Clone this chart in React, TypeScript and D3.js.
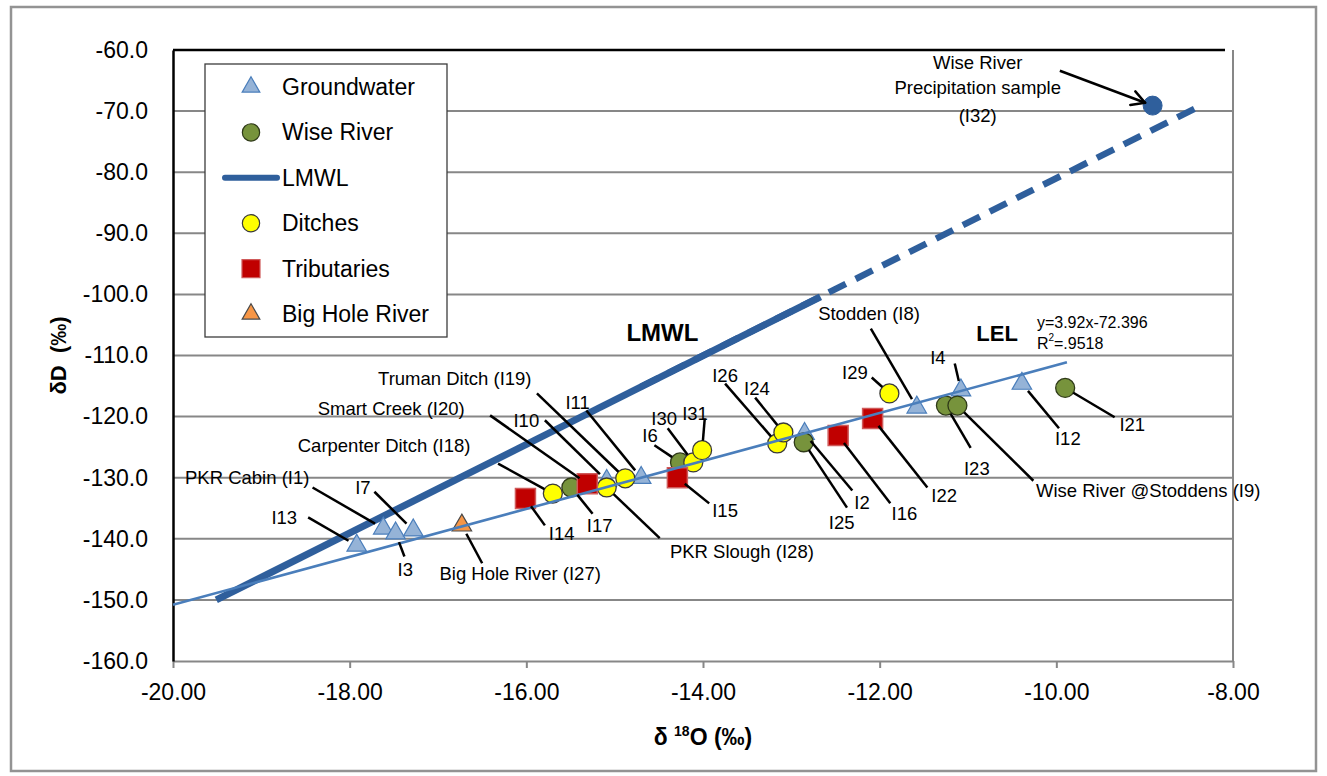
import React, { useEffect, useRef } from 'react';
import * as d3 from 'd3';

type Pt = { id: string; x: number; y: number };

// axis ticks
const xTicks = [-20, -18, -16, -14, -12, -10, -8];
const yTicks = [-60, -70, -80, -90, -100, -110, -120, -130, -140, -150, -160];

// samples (d18O, dD)
const groundwater: Pt[] = [
  { id: 'I13', x: -17.92, y: -141.1 },
  { id: 'I1', x: -17.62, y: -138.3 },
  { id: 'I3', x: -17.48, y: -139.1 },
  { id: 'I7', x: -17.28, y: -138.6 },
  { id: 'I10', x: -15.09, y: -130.5 },
  { id: 'I11', x: -14.7, y: -130.0 },
  { id: 'I2', x: -12.85, y: -122.8 },
  { id: 'I8', x: -11.58, y: -118.5 },
  { id: 'I4', x: -11.08, y: -115.7 },
  { id: 'I12', x: -10.39, y: -114.6 },
];
const wiseRiver: Pt[] = [
  { id: 'I17', x: -15.49, y: -131.6 },
  { id: 'I6', x: -14.26, y: -127.5 },
  { id: 'I25', x: -12.86, y: -124.2 },
  { id: 'I23', x: -11.25, y: -118.2 },
  { id: 'I9', x: -11.12, y: -118.2 },
  { id: 'I21', x: -9.9, y: -115.3 },
];
const ditches: Pt[] = [
  { id: 'I18', x: -15.7, y: -132.6 },
  { id: 'I28', x: -15.09, y: -131.6 },
  { id: 'I19', x: -14.88, y: -130.1 },
  { id: 'I30', x: -14.11, y: -127.5 },
  { id: 'I31', x: -14.01, y: -125.5 },
  { id: 'I26', x: -13.16, y: -124.4 },
  { id: 'I24', x: -13.09, y: -122.6 },
  { id: 'I29', x: -11.89, y: -116.2 },
];
const tributaries: Pt[] = [
  { id: 'I14', x: -16.01, y: -133.4 },
  { id: 'I20', x: -15.31, y: -131.0 },
  { id: 'I15', x: -14.29, y: -130.0 },
  { id: 'I16', x: -12.47, y: -123.1 },
  { id: 'I22', x: -12.08, y: -120.3 },
];
const bigHole: Pt[] = [{ id: 'I27', x: -16.73, y: -137.8 }];
const precip: Pt[] = [{ id: 'I32', x: -8.91, y: -69.1 }];

// lines
const lmwlSolid: [number, number][] = [[-19.51, -150.0], [-12.67, -100.4]];
const lmwlDashed: [number, number][] = [[-14.7, -115.1], [-8.39, -69.3]];
const lel: [number, number][] = [[-20, -150.8], [-9.88, -111.1]];

// callouts: label centre (lx, ly) and leader start (sx, sy), in data units
const notes = [
  { text: 'I13', at: 'I13', lx: -18.74, ly: -136.5, sx: -18.47, sy: -136.5 },
  { text: 'PKR Cabin (I1)', at: 'I1', lx: -19.16, ly: -130.0, sx: -18.42, sy: -131.6 },
  { text: 'I7', at: 'I7', lx: -17.85, ly: -131.6, sx: -17.72, sy: -132.3 },
  { text: 'I3', at: 'I3', lx: -17.37, ly: -145.0, sx: -17.38, sy: -142.9 },
  { text: 'Big Hole River (I27)', at: 'I27', lx: -16.07, ly: -145.7, sx: -16.5, sy: -144.0 },
  { text: 'Carpenter Ditch (I18)', at: 'I18', lx: -17.61, ly: -124.7, sx: -16.32, sy: -127.7 },
  { text: 'Smart Creek (I20)', at: 'I20', lx: -17.53, ly: -118.7, sx: -16.41, sy: -119.8 },
  { text: 'Truman Ditch (I19)', at: 'I19', lx: -16.81, ly: -113.8, sx: -15.88, sy: -116.2 },
  { text: 'I10', at: 'I10', lx: -16.0, ly: -120.6, sx: -15.79, sy: -120.6 },
  { text: 'I11', at: 'I11', lx: -15.42, ly: -117.7, sx: -15.32, sy: -119.0 },
  { text: 'I14', at: 'I14', lx: -15.6, ly: -139.1, sx: -15.79, sy: -137.8 },
  { text: 'I17', at: 'I17', lx: -15.17, ly: -137.8, sx: -15.25, sy: -135.9 },
  { text: 'PKR Slough (I28)', at: 'I28', lx: -13.56, ly: -142.1, sx: -14.49, sy: -139.9 },
  { text: 'I6', at: 'I6', lx: -14.6, ly: -123.1, sx: -14.55, sy: -124.7 },
  { text: 'I30', at: 'I30', lx: -14.44, ly: -120.3, sx: -14.4, sy: -121.9 },
  { text: 'I31', at: 'I31', lx: -14.09, ly: -119.5, sx: -13.98, sy: -120.3 },
  { text: 'I15', at: 'I15', lx: -13.75, ly: -135.4, sx: -13.93, sy: -134.2 },
  { text: 'I26', at: 'I26', lx: -13.75, ly: -113.3, sx: -13.75, sy: -114.6 },
  { text: 'I24', at: 'I24', lx: -13.39, ly: -115.4, sx: -13.41, sy: -116.9 },
  { text: 'I2', at: 'I2', lx: -12.2, ly: -134.1, sx: -12.31, sy: -132.1 },
  { text: 'I25', at: 'I25', lx: -12.43, ly: -137.3, sx: -12.37, sy: -134.9 },
  { text: 'I16', at: 'I16', lx: -11.72, ly: -135.9, sx: -11.88, sy: -134.2 },
  { text: 'I22', at: 'I22', lx: -11.27, ly: -132.9, sx: -11.46, sy: -131.6 },
  { text: 'I29', at: 'I29', lx: -12.28, ly: -112.8, sx: -12.09, sy: -113.6 },
  { text: 'Stodden (I8)', at: 'I8', lx: -12.12, ly: -103.1, sx: -12.1, sy: -105.6 },
  { text: 'I4', at: 'I4', lx: -11.34, ly: -110.3, sx: -11.15, sy: -111.3 },
  { text: 'I23', at: 'I23', lx: -10.9, ly: -128.5, sx: -10.97, sy: -125.1 },
  { text: 'Wise River @Stoddens (I9)', at: 'I9', lx: -8.96, ly: -132.1, sx: -10.26, sy: -130.5 },
  { text: 'I12', at: 'I12', lx: -9.87, ly: -123.6, sx: -9.97, sy: -121.9 },
  { text: 'I21', at: 'I21', lx: -9.14, ly: -121.3, sx: -9.34, sy: -120.1 },
];
const precipNote = { lines: ['Wise River', 'Precipitation sample', '(I32)'], lx: -10.89, ly: [-62.0, -66.1, -70.7], sx: -9.96, sy: -63.4 };

const legendItems = ['Groundwater', 'Wise River', 'LMWL', 'Ditches', 'Tributaries', 'Big Hole River'];

const W = 1327;
const H = 776;
const FONT = '"Liberation Sans", Arial, sans-serif';
const LMWL_COLOR = '#2f5f9c';
const LEL_COLOR = '#4a7ebb';
const GRID = '#878787';

const App = () => {
  const ref = useRef<SVGSVGElement>(null);

  useEffect(() => {
    const margin = { top: 50, right: 94, bottom: 115, left: 173 };
    const svg = d3.select(ref.current);
    svg.selectAll('*').remove();

    const x = d3.scaleLinear().domain([-20, -8]).range([margin.left, W - margin.right]);
    const y = d3.scaleLinear().domain([-160, -60]).range([H - margin.bottom, margin.top]);

    // outer chart frame
    svg.append('rect')
      .attr('x', 11).attr('y', 7).attr('width', 1305).attr('height', 764)
      .attr('fill', '#fff').attr('stroke', '#939393').attr('stroke-width', 2.5);

    // horizontal gridlines
    svg.append('g').selectAll('line')
      .data(yTicks.filter(v => v !== -60 && v !== -160))
      .enter().append('line')
      .attr('x1', x(-20)).attr('x2', x(-8))
      .attr('y1', d => y(d)).attr('y2', d => y(d))
      .attr('stroke', GRID).attr('stroke-width', 2);

    // top edge (black) and right edge (grey)
    svg.append('line')
      .attr('x1', x(-20)).attr('x2', x(-8) - 8).attr('y1', y(-60)).attr('y2', y(-60))
      .attr('stroke', '#000').attr('stroke-width', 2.5);
    svg.append('line')
      .attr('x1', x(-8)).attr('x2', x(-8)).attr('y1', y(-60)).attr('y2', y(-160))
      .attr('stroke', GRID).attr('stroke-width', 2);

    // axes
    const xAxis = svg.append('g')
      .attr('transform', `translate(0,${y(-160)})`)
      .call(d3.axisBottom(x).tickValues(xTicks).tickFormat(d => (+d).toFixed(2)).tickSizeInner(7).tickSizeOuter(0).tickPadding(16));
    xAxis.select('.domain').attr('stroke', GRID).attr('stroke-width', 2);
    xAxis.selectAll('.tick line').attr('stroke', GRID).attr('stroke-width', 2);
    xAxis.selectAll('text').attr('font-family', FONT).attr('font-size', 23).attr('fill', '#000');

    const yAxis = svg.append('g')
      .attr('transform', `translate(${x(-20)},0)`)
      .call(d3.axisLeft(y).tickValues(yTicks).tickFormat(d => (+d).toFixed(1)).tickSize(0).tickPadding(25));
    yAxis.select('.domain').attr('stroke', '#000').attr('stroke-width', 2.5);
    yAxis.selectAll('text').attr('font-family', FONT).attr('font-size', 23).attr('fill', '#000');

    // axis titles
    svg.append('text')
      .attr('transform', `translate(58,${(y(-60) + y(-160)) / 2}) rotate(-90)`)
      .attr('text-anchor', 'middle').attr('dominant-baseline', 'central')
      .attr('font-family', FONT).attr('font-size', 22).attr('font-weight', 'bold')
      .style('white-space', 'pre')
      .text('\u03b4D  (\u2030)');

    const xt = svg.append('text')
      .attr('x', (x(-20) + x(-8)) / 2).attr('y', 745)
      .attr('text-anchor', 'middle')
      .attr('font-family', FONT).attr('font-size', 23).attr('font-weight', 'bold');
    xt.append('tspan').text('\u03b4 ');
    xt.append('tspan').attr('font-size', 14).attr('dy', -9).text('18');
    xt.append('tspan').attr('dy', 9).text('O (\u2030)');

    const line = d3.line<[number, number]>().x(d => x(d[0])).y(d => y(d[1]));

    // LMWL
    svg.append('path').datum(lmwlSolid).attr('d', line)
      .attr('fill', 'none').attr('stroke', LMWL_COLOR).attr('stroke-width', 7);
    svg.append('path').datum(lmwlDashed).attr('d', line)
      .attr('fill', 'none').attr('stroke', LMWL_COLOR).attr('stroke-width', 6.5)
      .attr('stroke-dasharray', '19,11');

    // markers
    const tri = d3.symbol(d3.symbolTriangle, 165);
    const circ = d3.symbol(d3.symbolCircle, Math.PI * 90);
    const sq = d3.symbol(d3.symbolSquare, 400);

    const drawSeries = (data: Pt[], sym: d3.Symbol<any, any>, fill: string, stroke: string, sw: number) => {
      svg.append('g').selectAll('path')
        .data(data)
        .enter().append('path')
        .attr('d', sym as any)
        .attr('transform', d => `translate(${x(d.x)},${y(d.y)})`)
        .attr('fill', fill).attr('stroke', stroke).attr('stroke-width', sw);
    };

    drawSeries(groundwater, tri, '#95b3d7', '#4a7ebb', 1.2);
    drawSeries(wiseRiver, circ, '#77933c', '#2f3a18', 1.3);
    drawSeries(ditches, circ, '#ffff00', '#3a3a3a', 1.3);
    drawSeries(tributaries, sq, '#c00000', '#cf5a5a', 1.5);
    drawSeries(bigHole, tri, '#f79646', '#4a4a4a', 1.2);
    drawSeries(precip, circ, LMWL_COLOR, LMWL_COLOR, 1);

    // LEL trendline (on top of markers)
    svg.append('path').datum(lel).attr('d', line)
      .attr('fill', 'none').attr('stroke', LEL_COLOR).attr('stroke-width', 2.6);

    // leader lines
    const all = [...groundwater, ...wiseRiver, ...ditches, ...tributaries, ...bigHole, ...precip];
    const find = (id: string) => all.find(p => p.id === id)!;
    const shorten = (sx: number, sy: number, p: Pt, gap: number) => {
      const x0 = x(sx), y0 = y(sy), x1 = x(p.x), y1 = y(p.y);
      const len = Math.hypot(x0 - x1, y0 - y1);
      return [x0, y0, x1 + (x0 - x1) / len * gap, y1 + (y0 - y1) / len * gap];
    };

    svg.append('g').selectAll('line')
      .data(notes)
      .enter().append('line')
      .each(function (d) {
        const [x0, y0, x1, y1] = shorten(d.sx, d.sy, find(d.at), 9.5);
        d3.select(this).attr('x1', x0).attr('y1', y0).attr('x2', x1).attr('y2', y1);
      })
      .attr('stroke', '#000').attr('stroke-width', 2.5);

    svg.append('g').selectAll('text')
      .data(notes)
      .enter().append('text')
      .attr('x', d => x(d.lx)).attr('y', d => y(d.ly))
      .attr('text-anchor', 'middle').attr('dominant-baseline', 'central')
      .attr('font-family', FONT).attr('font-size', 18.5).attr('fill', '#000')
      .text(d => d.text);

    // precipitation callout with arrow
    const [ax0, ay0, ax1, ay1] = shorten(precipNote.sx, precipNote.sy, precip[0], 8);
    svg.append('line').attr('x1', ax0).attr('y1', ay0).attr('x2', ax1).attr('y2', ay1)
      .attr('stroke', '#000').attr('stroke-width', 2.5);
    const ang = Math.atan2(ay1 - ay0, ax1 - ax0);
    [0.5, -0.5].forEach(a => {
      svg.append('line')
        .attr('x1', ax1).attr('y1', ay1)
        .attr('x2', ax1 - 15 * Math.cos(ang + a)).attr('y2', ay1 - 15 * Math.sin(ang + a))
        .attr('stroke', '#000').attr('stroke-width', 2.5).attr('stroke-linecap', 'round');
    });
    svg.append('g').selectAll('text')
      .data(precipNote.lines)
      .enter().append('text')
      .attr('x', x(precipNote.lx)).attr('y', (d, i) => y(precipNote.ly[i]))
      .attr('text-anchor', 'middle').attr('dominant-baseline', 'central')
      .attr('font-family', FONT).attr('font-size', 18.5)
      .text(d => d);

    // line labels
    svg.append('text')
      .attr('x', x(-14.46)).attr('y', y(-106.2))
      .attr('text-anchor', 'middle').attr('dominant-baseline', 'central')
      .attr('font-family', FONT).attr('font-size', 24).attr('font-weight', 'bold')
      .text('LMWL');
    svg.append('text')
      .attr('x', x(-10.67)).attr('y', y(-106.4))
      .attr('text-anchor', 'middle').attr('dominant-baseline', 'central')
      .attr('font-family', FONT).attr('font-size', 22).attr('font-weight', 'bold')
      .text('LEL');
    svg.append('text')
      .attr('x', x(-10.22)).attr('y', y(-104.6))
      .attr('dominant-baseline', 'central')
      .attr('font-family', FONT).attr('font-size', 16)
      .text('y=3.92x-72.396');
    const r2 = svg.append('text')
      .attr('x', x(-10.22)).attr('y', y(-108.0))
      .attr('dominant-baseline', 'central')
      .attr('font-family', FONT).attr('font-size', 16);
    r2.append('tspan').text('R');
    r2.append('tspan').attr('font-size', 10).attr('dy', -6).text('2');
    r2.append('tspan').attr('dy', 6).text('=.9518');

    // legend
    const lg = svg.append('g');
    lg.append('rect')
      .attr('x', 205).attr('y', 64).attr('width', 242).attr('height', 273)
      .attr('fill', '#fff').attr('stroke', '#3c3c3c').attr('stroke-width', 1.3);
    const legendSym = [
      { sym: d3.symbol(d3.symbolTriangle, 135), fill: '#95b3d7', stroke: '#4a7ebb' },
      { sym: d3.symbol(d3.symbolCircle, Math.PI * 75), fill: '#77933c', stroke: '#2f3a18' },
      null,
      { sym: d3.symbol(d3.symbolCircle, Math.PI * 75), fill: '#ffff00', stroke: '#3a3a3a' },
      { sym: d3.symbol(d3.symbolSquare, 324), fill: '#c00000', stroke: '#cf5a5a' },
      { sym: d3.symbol(d3.symbolTriangle, 135), fill: '#f79646', stroke: '#4a4a4a' },
    ];
    legendItems.forEach((name, i) => {
      const cy = 87 + i * 45.4;
      const s = legendSym[i];
      if (s) {
        lg.append('path').attr('d', s.sym as any)
          .attr('transform', `translate(251,${cy})`)
          .attr('fill', s.fill).attr('stroke', s.stroke).attr('stroke-width', 1.2);
      } else {
        lg.append('line').attr('x1', 225).attr('x2', 277).attr('y1', cy).attr('y2', cy)
          .attr('stroke', LMWL_COLOR).attr('stroke-width', 6).attr('stroke-linecap', 'round');
      }
      lg.append('text')
        .attr('x', 282).attr('y', cy)
        .attr('dominant-baseline', 'central')
        .attr('font-family', FONT).attr('font-size', 23)
        .text(name);
    });
  }, []);

  return (
    <svg ref={ref} width={W} height={H} style={{ position: 'absolute', left: 0, top: 0, background: '#fff' }} />
  );
};

export default App;
